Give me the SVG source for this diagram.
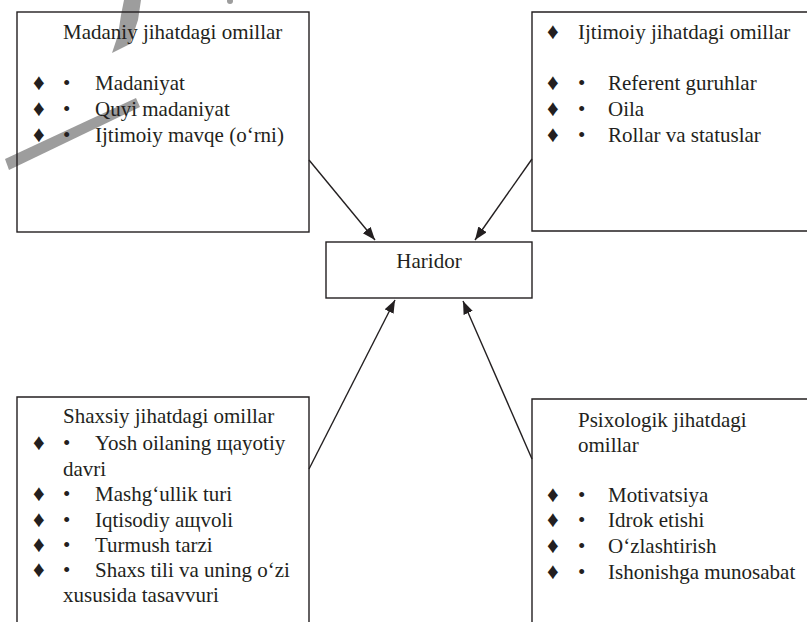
<svg xmlns="http://www.w3.org/2000/svg" width="807" height="622" viewBox="0 0 807 622">
  <defs>
    <style>
      .box { fill: none; stroke: #231f20; stroke-width: 1.4; }
      .t { font-family: 'Liberation Serif', 'Times New Roman', 'DejaVu Serif', serif; font-size: 21px; fill: #231f20; }
      .dm { font-family: 'Liberation Serif', 'DejaVu Serif', serif; font-size: 23px; fill: #231f20; }
      .link { stroke: #231f20; stroke-width: 1.4; fill: none; marker-end: url(#head); }
      .mark { fill: #9d9d9d; }
    </style>
    <marker id="head" markerUnits="userSpaceOnUse" markerWidth="14" markerHeight="11" refX="13" refY="5" orient="auto">
      <path d="M0,0 L13,5 L0,10 z" fill="#231f20"/>
    </marker>
  </defs>

  <rect width="807" height="622" fill="#ffffff"/>

  <!-- grey marker strokes across the upper left, beneath the text -->
  <g id="marks">
    <path class="mark" d="M124,0 L141,0 L138,20 L130,44 L112,53 L118,35 L121,15 Z"/>
    <path class="mark" d="M136,98 L140,107 L9,170 L5,159 Z"/>
    <ellipse class="mark" cx="230" cy="1" rx="3" ry="3"/>
  </g>

  <!-- cultural factors -->
  <g id="node-madaniy">
    <rect class="box" x="17" y="12" width="292" height="220"/>
    <text class="t" x="63" y="39">Madaniy jihatdagi omillar</text>
    <text class="dm" x="33" y="90">♦</text><text class="t" x="63" y="90">•</text><text class="t" x="95" y="90">Madaniyat</text>
    <text class="dm" x="33" y="116">♦</text><text class="t" x="63" y="116">•</text><text class="t" x="95" y="116">Quyi madaniyat</text>
    <text class="dm" x="33" y="142">♦</text><text class="t" x="63" y="142">•</text><text class="t" x="95" y="142">Ijtimoiy mavqe (o‘rni)</text>
  </g>

  <!-- social factors -->
  <g id="node-ijtimoiy">
    <path class="box" d="M808,12 H532 V231 H808"/>
    <text class="dm" x="547" y="39">♦</text><text class="t" x="578" y="39">Ijtimoiy jihatdagi omillar</text>
    <text class="dm" x="547" y="90">♦</text><text class="t" x="578" y="90">•</text><text class="t" x="608" y="90">Referent guruhlar</text>
    <text class="dm" x="547" y="116">♦</text><text class="t" x="578" y="116">•</text><text class="t" x="608" y="116">Oila</text>
    <text class="dm" x="547" y="142">♦</text><text class="t" x="578" y="142">•</text><text class="t" x="608" y="142">Rollar va statuslar</text>
  </g>

  <!-- buyer -->
  <g id="node-haridor">
    <rect class="box" x="326" y="242" width="206" height="56"/>
    <text class="t" x="429" y="268" text-anchor="middle">Haridor</text>
  </g>

  <!-- personal factors -->
  <g id="node-shaxsiy">
    <path class="box" d="M17,623 V397 H309 V623"/>
    <text class="t" x="63" y="423">Shaxsiy jihatdagi omillar</text>
    <text class="dm" x="33" y="450">♦</text><text class="t" x="63" y="450">•</text><text class="t" x="95" y="450">Yosh oilaning щayotiy</text>
    <text class="t" x="63" y="475.5">davri</text>
    <text class="dm" x="33" y="501">♦</text><text class="t" x="63" y="501">•</text><text class="t" x="95" y="501">Mashg‘ullik turi</text>
    <text class="dm" x="33" y="526.5">♦</text><text class="t" x="63" y="526.5">•</text><text class="t" x="95" y="526.5">Iqtisodiy aщvoli</text>
    <text class="dm" x="33" y="552">♦</text><text class="t" x="63" y="552">•</text><text class="t" x="95" y="552">Turmush tarzi</text>
    <text class="dm" x="33" y="577">♦</text><text class="t" x="63" y="577">•</text><text class="t" x="95" y="577">Shaxs tili va uning o‘zi</text>
    <text class="t" x="63" y="602">xususida tasavvuri</text>
  </g>

  <!-- psychological factors -->
  <g id="node-psixologik">
    <path class="box" d="M532,623 V399 H808"/>
    <text class="t" x="578" y="426.5">Psixologik jihatdagi</text>
    <text class="t" x="578" y="451.5">omillar</text>
    <text class="dm" x="547" y="501.5">♦</text><text class="t" x="578" y="501.5">•</text><text class="t" x="608" y="501.5">Motivatsiya</text>
    <text class="dm" x="547" y="527">♦</text><text class="t" x="578" y="527">•</text><text class="t" x="608" y="527">Idrok etishi</text>
    <text class="dm" x="547" y="553">♦</text><text class="t" x="578" y="553">•</text><text class="t" x="608" y="553">O‘zlashtirish</text>
    <text class="dm" x="547" y="578.5">♦</text><text class="t" x="578" y="578.5">•</text><text class="t" x="608" y="578.5">Ishonishga munosabat</text>
  </g>

  <!-- connectors -->
  <g id="connectors">
    <line class="link" x1="309" y1="160" x2="375" y2="240"/>
    <line class="link" x1="532" y1="159" x2="475" y2="240"/>
    <line class="link" x1="309" y1="469" x2="395" y2="300"/>
    <line class="link" x1="532" y1="459" x2="463" y2="301"/>
  </g>
</svg>
